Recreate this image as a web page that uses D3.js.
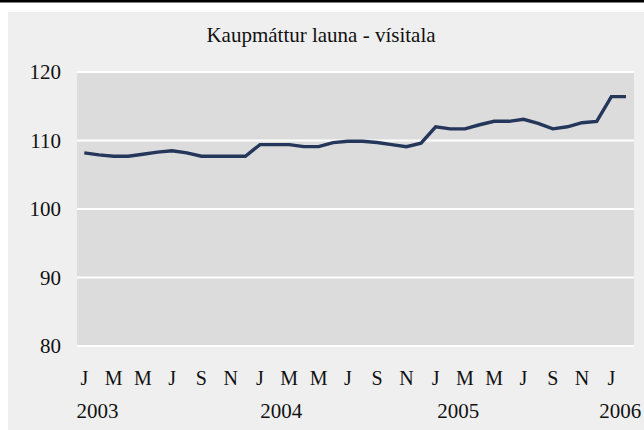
<!DOCTYPE html>
<html><head><meta charset="utf-8">
<script src="https://cdn.jsdelivr.net/npm/d3@7"></script>
<style>html,body{margin:0;padding:0;background:#fff;}svg{display:block;}</style>
</head><body>
<script>
const title = "Kaupmáttur launa - vísitala";
const monthLetters = ["J","M","M","J","S","N"];
const years = ["2003","2004","2005","2006"];
const yTicks = [80, 90, 100, 110, 120];
const values2003 = [108.2,107.9,107.7,107.7,108.0,108.3,108.5,108.2,107.7,107.7,107.7,107.7];
const values2004 = [109.4,109.4,109.4,109.1,109.1,109.7,109.9,109.9,109.7,109.4,109.1,109.6];
const values2005 = [112.0,111.7,111.7,112.3,112.8,112.8,113.1,112.5,111.7,112.0,112.6,112.8];
const values2006 = [116.4,116.4];
const series = [...values2003, ...values2004, ...values2005, ...values2006];

const W = 644, H = 430;
const svg = d3.select("body").append("svg").attr("width", W).attr("height", H);
const font = "'Liberation Serif','Times New Roman',serif";

svg.append("rect").attr("x",0).attr("y",0).attr("width",W).attr("height",H).attr("fill","#fff");
svg.append("rect").attr("x",0).attr("y",0).attr("width",W).attr("height",2.5).attr("fill","#000");
svg.append("rect").attr("x",8).attr("y",12).attr("width",W-8).attr("height",H-12).attr("fill","#efefef");

const plot = {l:77, r:634, t:72, b:346};
const x = d3.scaleLinear().domain([0, 37]).range([84.3, 626]);
const y = d3.scaleLinear().domain([80, 120]).range([plot.b, plot.t]);

svg.append("rect").attr("x",plot.l).attr("y",plot.t).attr("width",plot.r-plot.l).attr("height",plot.b-plot.t).attr("fill","#dcdcdc");

// gridlines
svg.append("g").selectAll("line").data(yTicks).join("line")
  .attr("x1",plot.l).attr("x2",plot.r)
  .attr("y1",d=>y(d)).attr("y2",d=>y(d))
  .attr("stroke","#fff").attr("stroke-width",2);

// y labels
svg.append("g").selectAll("text").data(yTicks).join("text")
  .attr("x",61).attr("y",d=>y(d)).attr("dy","0.35em")
  .attr("text-anchor","end").attr("font-family",font).attr("font-size",21).attr("fill","#111")
  .text(d=>d);

// title
svg.append("text").attr("x",321).attr("y",42).attr("text-anchor","middle")
  .attr("font-family",font).attr("font-size",21).attr("fill","#111").text(title);

// month labels
const monthIdx = d3.range(0, 37, 2);
svg.append("g").selectAll("text").data(monthIdx).join("text")
  .attr("x",d=>x(d)).attr("y",385).attr("text-anchor","middle")
  .attr("font-family",font).attr("font-size",20).attr("fill","#111")
  .text(d=>monthLetters[(d%12)/2]);

// year labels
const yearShift = [0.9, 1.45, 1.55, 0.6];
svg.append("g").selectAll("text").data(years).join("text")
  .attr("x",(d,i)=>x(i*12 + yearShift[i])).attr("y",418).attr("text-anchor","middle")
  .attr("font-family",font).attr("font-size",21).attr("fill","#111")
  .text(d=>d);

// line
const line = d3.line().x((d,i)=>x(i)).y(d=>y(d));
svg.append("path").datum(series).attr("d",line)
  .attr("fill","none").attr("stroke","#24375a").attr("stroke-width",3.4);
</script>
</body></html>
